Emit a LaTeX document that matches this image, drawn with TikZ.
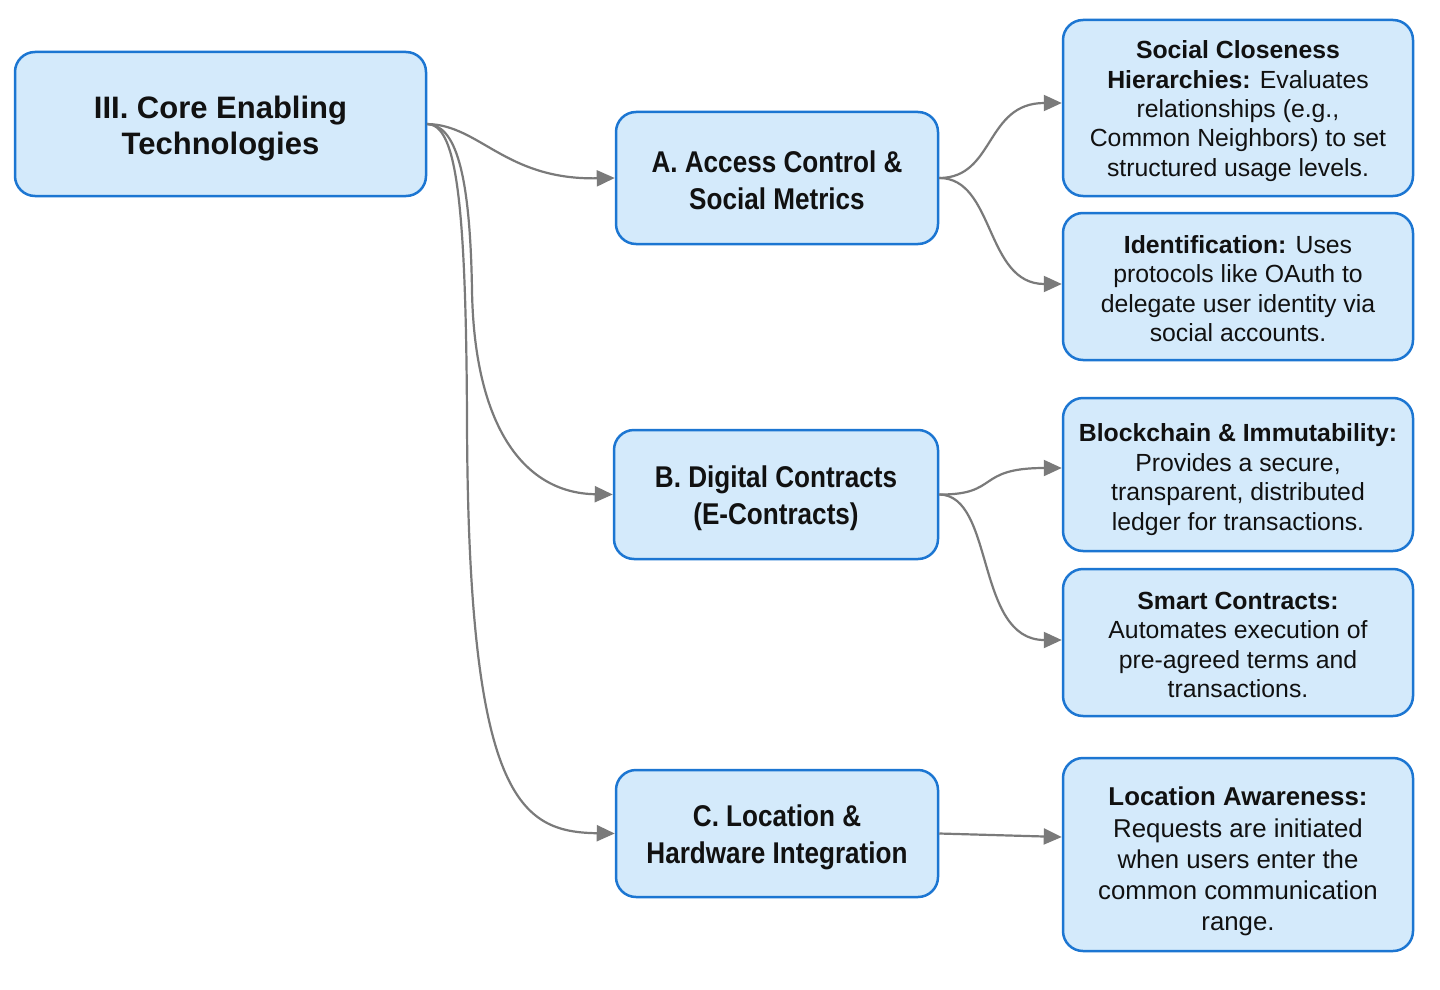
\documentclass[tikz,border=0pt]{standalone}
\usepackage{fontspec}
\setmainfont{Liberation Sans}
\newfontfamily\condfont[FakeStretch=0.87]{Liberation Sans}
\usetikzlibrary{arrows.meta,calc}
\definecolor{boxc}{HTML}{D4EAFB}
\definecolor{bordc}{HTML}{1C76D2}
\definecolor{linkc}{HTML}{7A7A7A}
\definecolor{textc}{HTML}{111111}
\newcommand\pushdown[1]{\rule{0pt}{#1}}
\tikzset{
  box/.style={draw=bordc, fill=boxc, line width=1.25pt, rounded corners=10pt,
    inner sep=0pt, align=center, text=textc, shape=rectangle},
  link/.style={draw=linkc, line width=1.1pt, -{Triangle[length=9pt,width=8pt]}},
  rootfont/.style={font=\fontsize{15.5pt}{18pt}\selectfont\bfseries},
  midfont/.style={font=\condfont\fontsize{15pt}{18.5pt}\selectfont\bfseries},
  leaffont/.style={font=\fontsize{12.4pt}{14.7pt}\selectfont},
  lafont/.style={font=\fontsize{12.9pt}{15.6pt}\selectfont},
}
\begin{document}
\begin{tikzpicture}[x=0.5pt,y=-0.5pt]
\useasboundingbox[fill=white] (0,0) rectangle (1440,990);

\node[box,rootfont,minimum width=205.5pt,minimum height=72pt] (root) at (220.5,124)
  {\pushdown{15.3pt}III. Core Enabling\\Technologies};

\node[box,midfont,minimum width=161pt,minimum height=66pt] (A) at (777,178)
  {\pushdown{13pt}A. Access Control \&\\Social Metrics};
\node[box,midfont,minimum width=162pt,minimum height=64.5pt] (B) at (776,494.5)
  {\pushdown{14.5pt}B. Digital Contracts\\(E-Contracts)};
\node[box,midfont,minimum width=161pt,minimum height=63.5pt] (C) at (777,833.5)
  {\pushdown{15pt}C. Location \&\\Hardware Integration};

\node[box,leaffont,minimum width=175pt,minimum height=88pt] (SC) at (1238,108)
  {\pushdown{12pt}\textbf{Social Closeness}\\\textbf{Hierarchies:} Evaluates\\relationships (e.g.,\\Common Neighbors) to set\\structured usage levels.};
\node[box,leaffont,minimum width=175pt,minimum height=73.5pt] (Id) at (1238,286.5)
  {\pushdown{11pt}\textbf{Identification:} Uses\\protocols like OAuth to\\delegate user identity via\\social accounts.};
\node[box,leaffont,minimum width=175pt,minimum height=76.5pt] (BC) at (1238,474.5)
  {\pushdown{14pt}\textbf{Blockchain \& Immutability:}\\Provides a secure,\\transparent, distributed\\ledger for transactions.};
\node[box,leaffont,minimum width=175pt,minimum height=73.5pt] (SM) at (1238,642.5)
  {\pushdown{11pt}\textbf{Smart Contracts:}\\Automates execution of\\pre-agreed terms and\\transactions.};
\node[box,lafont,minimum width=175pt,minimum height=96.5pt] (LA) at (1238,854.5)
  {\pushdown{16.4pt}\textbf{Location Awareness:}\\Requests are initiated\\when users enter the\\common communication\\range.};

% root connectors
\coordinate (bmid) at (472,290);
\coordinate (cmid) at (467,420);
\draw[link] (root.east) .. controls (480,125) and (505,180) .. (A.west);
\draw[link] (root.east) .. controls (455,125) and (470,170) .. (bmid)
  .. controls (474,420) and (520,493) .. (B.west);
\draw[link] (root.east) .. controls (455,125) and (466,190) .. (cmid)
  .. controls (468,800) and (520,832) .. (C.west);

% leaf connectors
\draw[link] (A.east) .. controls (995,178) and (985,103) .. ($(SC.west)+(0,-5)$);
\draw[link] (A.east) .. controls (995,178) and (985,284) .. ($(Id.west)+(0,-2.5)$);
\draw[link] (B.east) .. controls (1000,495) and (975,468) .. ($(BC.west)+(0,-6.5)$);
\draw[link] (B.east) .. controls (995,495) and (975,640) .. ($(SM.west)+(0,-2.5)$);
\draw[link] (C.east) -- ($(LA.west)+(0,-17.5)$);
\end{tikzpicture}
\end{document}
